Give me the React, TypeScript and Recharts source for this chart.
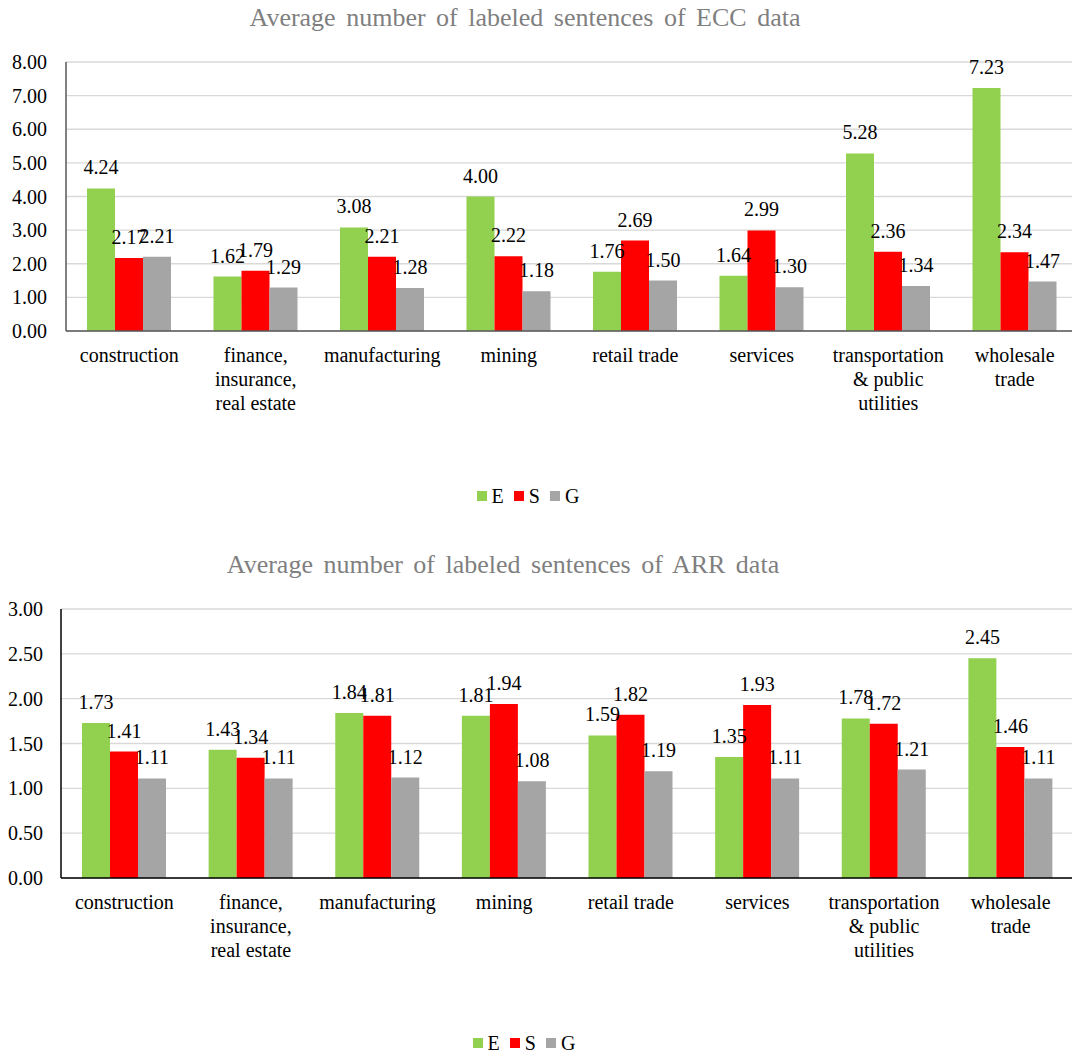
import { BarChart, Bar, XAxis, YAxis, CartesianGrid, LabelList } from "recharts";

const categories = [
  "construction",
  "finance,\ninsurance,\nreal estate",
  "manufacturing",
  "mining",
  "retail trade",
  "services",
  "transportation\n& public\nutilities",
  "wholesale\ntrade",
];

const eccE = [4.24, 1.62, 3.08, 4.0, 1.76, 1.64, 5.28, 7.23];
const eccS = [2.17, 1.79, 2.21, 2.22, 2.69, 2.99, 2.36, 2.34];
const eccG = [2.21, 1.29, 1.28, 1.18, 1.5, 1.3, 1.34, 1.47];

const arrE = [1.73, 1.43, 1.84, 1.81, 1.59, 1.35, 1.78, 2.45];
const arrS = [1.41, 1.34, 1.81, 1.94, 1.82, 1.93, 1.72, 1.46];
const arrG = [1.11, 1.11, 1.12, 1.08, 1.19, 1.11, 1.21, 1.11];

const eccTicks = [0, 1, 2, 3, 4, 5, 6, 7, 8];
const arrTicks = [0, 0.5, 1, 1.5, 2, 2.5, 3];

const seriesKeys = ["E", "S", "G"];
const seriesColors: Record<string, string> = {
  E: "#92D050",
  S: "#FF0000",
  G: "#A5A5A5",
};

const FONT = '"Liberation Serif", "DejaVu Serif", serif';

const buildRows = (e: number[], s: number[], g: number[]) =>
  categories.map((name, i) => ({ name, E: e[i], S: s[i], G: g[i] }));

const eccData = buildRows(eccE, eccS, eccG);
const arrData = buildRows(arrE, arrS, arrG);

function CategoryTick(props: any) {
  const { x, y, payload } = props;
  const lines = String(payload.value).split("\n");
  return (
    <text
      x={x}
      y={y + 31}
      textAnchor="middle"
      fill="#000"
      fontSize={20}
      style={{ fontFamily: FONT }}
    >
      {lines.map((line, i) => (
        <tspan key={i} x={x} dy={i === 0 ? 0 : 24}>
          {line}
        </tspan>
      ))}
    </text>
  );
}

function LegendRow({ top, center }: { top: number; center: number }) {
  return (
    <div
      style={{
        position: "absolute",
        top,
        left: center - 150,
        width: 300,
        display: "flex",
        justifyContent: "center",
        alignItems: "center",
        fontFamily: FONT,
        fontSize: 20,
        color: "#000",
        lineHeight: "20px",
      }}
    >
      {seriesKeys.map((k) => (
        <span
          key={k}
          style={{ display: "flex", alignItems: "center", margin: "0 5px" }}
        >
          <span
            style={{
              width: 10,
              height: 10,
              background: seriesColors[k],
              marginRight: 5,
              display: "inline-block",
            }}
          />
          {k}
        </span>
      ))}
    </div>
  );
}

type PanelProps = {
  title: string;
  titleCenter: number;
  top: number;
  data: any[];
  ticks: number[];
  axisWidth: number;
  tickMargin: number;
  width: number;
  axisColor: string;
  legendCenter: number;
};

function Panel(p: PanelProps) {
  const max = p.ticks[p.ticks.length - 1];
  return (
    <>
      <div
        style={{
          position: "absolute",
          top: p.top + 2,
          left: p.titleCenter - 400,
          width: 800,
          textAlign: "center",
          fontFamily: FONT,
          fontSize: 26,
          wordSpacing: 4,
          color: "#7F7F7F",
          lineHeight: "32px",
          whiteSpace: "nowrap",
        }}
      >
        {p.title}
      </div>
      <div style={{ position: "absolute", top: p.top, left: 0 }}>
        <BarChart
          width={p.width}
          height={470}
          data={p.data}
          margin={{ top: 62, right: 2, left: 0, bottom: 0 }}
          barSize={28}
          barGap={0}
        >
          <CartesianGrid vertical={false} stroke="#D9D9D9" strokeWidth={1.3} />
          <XAxis
            dataKey="name"
            height={139}
            interval={0}
            tickLine={false}
            tickSize={0}
            tickMargin={0}
            axisLine={{ stroke: p.axisColor, strokeWidth: 1.5 }}
            tick={<CategoryTick />}
          />
          <YAxis
            width={p.axisWidth}
            domain={[0, max]}
            ticks={p.ticks}
            interval={0}
            tickLine={false}
            tickSize={0}
            tickMargin={p.tickMargin}
            axisLine={{ stroke: p.axisColor, strokeWidth: 1.5 }}
            tickFormatter={(v: number) => v.toFixed(2)}
            tick={{ fill: "#000", fontSize: 20, style: { fontFamily: FONT } }}
          />
          {seriesKeys.map((k) => (
            <Bar
              key={k}
              dataKey={k}
              fill={seriesColors[k]}
              isAnimationActive={false}
            >
              <LabelList
                dataKey={k}
                position="top"
                offset={14}
                formatter={(v: any) => Number(v).toFixed(2)}
                style={{ fill: "#000", fontSize: 20, fontFamily: FONT }}
              />
            </Bar>
          ))}
        </BarChart>
      </div>
      <LegendRow top={p.top + 486} center={p.legendCenter} />
    </>
  );
}

export default function App() {
  return (
    <div
      style={{
        position: "absolute",
        top: 0,
        left: 0,
        width: 1072,
        height: 1057,
        overflow: "hidden",
        background: "#fff",
      }}
    >
      <Panel
        title="Average number of labeled sentences of ECC data"
        titleCenter={525}
        top={0}
        data={eccData}
        ticks={eccTicks}
        axisWidth={66}
        tickMargin={19}
        width={1080}
        axisColor="#595959"
        legendCenter={528}
      />
      <Panel
        title="Average number of labeled sentences of ARR data"
        titleCenter={503}
        top={547}
        data={arrData}
        ticks={arrTicks}
        axisWidth={61}
        tickMargin={18}
        width={1076}
        axisColor="#000"
        legendCenter={524}
      />
    </div>
  );
}
